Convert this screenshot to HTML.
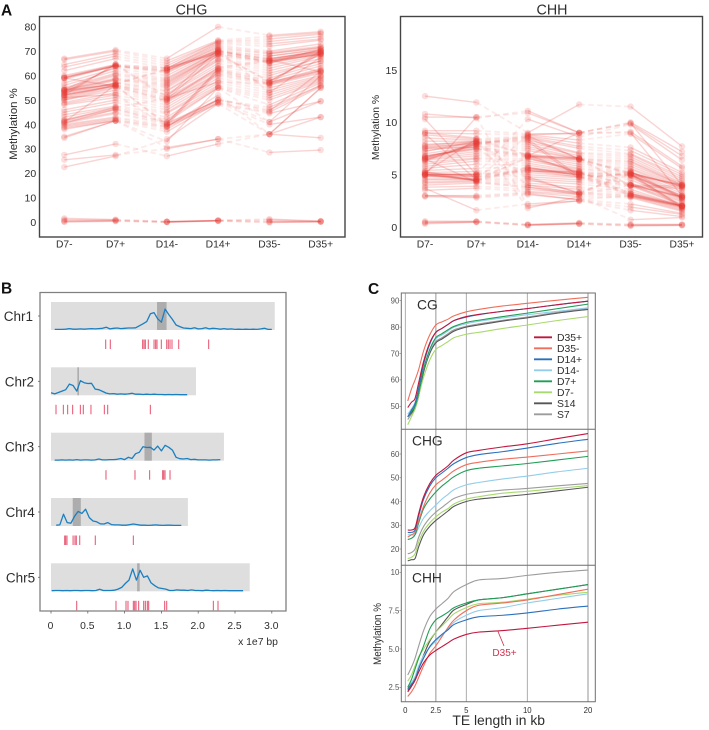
<!DOCTYPE html>
<html lang="en">
<head>
<meta charset="utf-8">
<title>Methylation figure</title>
<style>
html,body{margin:0;padding:0;background:#fff;}
svg{display:block;font-family:"Liberation Sans",sans-serif;filter:blur(0.3px);}
text{fill:#2e2e2e;}
</style>
</head>
<body>
<svg id="fig" xmlns="http://www.w3.org/2000/svg" width="709" height="730" viewBox="0 0 709 730">
  <rect x="0" y="0" width="709" height="730" fill="#fff"/>
  <g id="panelA"></g>
  <g id="panelB"></g>
  <g id="panelC"></g>
  <text x="1" y="15.5" font-size="15.5" font-weight="bold" style="fill:#111">A</text>
  <text x="1" y="293.5" font-size="15.5" font-weight="bold" style="fill:#111">B</text>
  <text x="368" y="294" font-size="15.5" font-weight="bold" style="fill:#111">C</text>
  <text x="191.5" y="14.5" font-size="14.3" text-anchor="middle">CHG</text>
  <text x="552" y="14.5" font-size="14.3" text-anchor="middle">CHH</text>
  <text transform="translate(17,124) rotate(-90)" font-size="11.4" text-anchor="middle">Methylation %</text>
  <text transform="translate(379,127.5) rotate(-90)" font-size="10.4" text-anchor="middle">Methylation %</text>
  <text x="258" y="645" font-size="10.4" text-anchor="middle">x 1e7 bp</text>
  <text x="417" y="309.5" font-size="13.8">CG</text>
  <text x="412" y="445.5" font-size="13.8">CHG</text>
  <text x="412" y="582.5" font-size="13.8">CHH</text>
  <text transform="translate(381,634) rotate(-90)" font-size="11" text-anchor="middle" textLength="62" lengthAdjust="spacingAndGlyphs">Methylation %</text>
  <text x="498.7" y="725" font-size="13.9" text-anchor="middle">TE length in kb</text>
  <text x="504.5" y="656" font-size="10" text-anchor="middle" style="fill:#d8304f">D35+</text>
  <line x1="498" y1="631.5" x2="504" y2="646" stroke="#c8304a" stroke-width="0.8"/>
</svg>
<script>
// ---------- Panel A data ----------
const sampleLabels = ['D7-','D7+','D14-','D14+','D35-','D35+'];
const chgTicks = [0,10,20,30,40,50,60,70,80];
const chhTicks = [0,5,10,15];
const chgRows = [
[67,70.5,67,80,76.5,78],[66.5,70,66,74.5,76,77.5],[64.5,69,65,74,75,77],[63.5,68,64,74,74,76],
[62,67,63,73.5,73,75],[60,64.5,63,73,72,74.5],[59.5,64,62.5,72.5,70,73],[59,64,62,72,69.5,72],
[59,64,62,71.5,69,71.5],[58.5,64,61,71,69,71.5],[57,63,60,70.5,68,71],[56,62,59,70,68,70.5],
[55,61,58.5,70,67,70],[54.5,60.5,58,69.5,67,70],[54,60,57.5,69,66,69.5],[54,59,57,69,66,69.5],
[54,58.5,56.5,69,65.5,69],[53.5,58.5,56,68.5,65.5,69],[53,58,55.5,68,65,69],[53,57,55,67,64,68.5],
[52.5,57,54,66.5,63,68],[52,56.5,53.5,66,62,67],[52,56,52.5,65,61,66],[51.5,56,52,64,60,66],
[51,56,51,63,59,65],[50.5,55.5,50.5,62.5,58,64],[50,55,50,62,57,63],[50,54,49.5,61,57,62],
[49,53,49,60.5,56.5,61.5],[48.5,52,48,60,56,61],[48,51,47,59,55,60],[46,50,46,58,54,59.5],
[45,49,45,57,53,59],[44,47.5,44.5,56,52,58.5],[43,47,43,55.5,51,58],[42,46.5,42,55,50,57.5],
[41.5,46,41,55,48,57],[41,45,40.5,50,47,56],[40.5,44.5,40,50,46,56],[40,43,39.5,49,45,55.5],
[39.5,42.5,39,48.5,44.5,49.5],[39,42,38,50,41,49.5],[38.5,41.5,37,49,40,43],[38,41.5,39,52,36,34.5],
[35,41.5,33,55,41,60],[34.5,41.5,30.5,34,36,55],[27.5,32,27,32,36,43],[25.5,27.5,30,34,28.5,29.5],
[22.5,27,34,48.5,36,55],
[54,56.4,62.8,70.2,66.3,70.4],[53.5,56.7,62.3,69.7,66.7,69.7],[54.2,63.6,61.6,70.5,65.2,70.8],[53,64.3,63.2,69.2,57.3,62.4],
[52,55.7,40.3,62.4,57.6,69.2],[41,56.2,39.6,61.7,56.5,62],[40.5,46.3,40.7,62.8,66,68.6],[59.2,64.5,50.3,68.6,57.8,68.8],
[59,55.6,49.7,63.3,66.5,61.5],[41.5,47,50.6,57.4,56.7,70.2],[52,64.8,51.2,70.7,53,67.6],[51,52.3,39.2,50.4,45.4,61.7],
[1.5,1,0.2,0.6,1.2,0.4],[1,0.8,0.1,0.7,0.8,0.3],[0.5,0.6,0,0.6,0.2,0.2],[0.2,0.5,0,0.5,0,0.1],[0,0.3,0,0.4,-0.2,0.1]
];
const chhRows = [
[12.5,11.9,9,11.7,11.5,7.7],[10.8,10.4,11.1,9,10,7.2],[10.5,10.5,10.9,9,9.9,6.8],[10.3,5,10.3,8.6,9.8,6.4],
[9.2,9.2,8.9,8.9,9.1,5.8],[9,8.9,8.8,8.3,8.9,5.6],[8.8,8.4,8.7,8,7.6,5.2],[8.5,8.3,8.6,7.7,7.3,5],
[8.2,8.2,8.5,7.5,7,4.8],[7.9,8.1,8.3,7.1,6.9,4.6],[7.6,8,8.1,7,6.7,4.4],[7.5,7.9,7.9,6.8,6.5,4.2],
[7.3,7.8,7.7,6.6,6.3,4.1],[7,7.7,7.5,6.5,6.2,4],[6.8,7.5,7.3,6.5,6,4],[6.7,7.4,7,6.4,5.8,3.9],
[6.6,7.2,6.9,6.2,5.6,3.8],[6.5,7,6.8,6,5.5,3.6],[6.4,6.8,6.7,5.8,5.3,3.4],[6.2,6.6,6.5,5.6,5.2,3.2],
[6,6.5,6.3,5.5,5.1,3],[5.8,6.3,6.1,5.3,5,3],[5.6,6,5.9,5.2,5,2.9],[5.4,5.6,5.7,5.1,4.9,2.8],
[5.2,5.3,5.6,5,4.7,2.7],[5,5.1,5.4,5,4.5,2.6],[5,5,5.2,4.8,4.2,2.5],[4.9,4.9,5,4.7,4,2.4],
[4.8,4.8,4.8,4.5,4,2.2],[4.6,4.6,4.6,4.3,3.9,2.1],[4.5,4.5,4.4,4.1,3.6,2],[4.3,4.4,4.2,3.8,3.4,2],
[4.2,4.3,4,3.6,3.2,1.9],[4,4.2,3.8,3.3,3.1,1.8],[3.8,3.9,3.6,3.2,3,1.7],[3.5,3.7,3.4,3.1,2.9,1.6],
[3,3,3.3,2.9,2.8,1.5],[2.9,2.8,3.1,2.6,2.2,1.3],[3.7,1.6,2.2,2.5,1.9,1.2],[5,10.5,2,2.5,1.6,1],
[5.2,8.4,1.8,2.9,0.7,0.9],
[6.6,8,8.5,6.5,5,4],[6.5,7.9,8.7,6.5,5.1,4],[6.7,7.7,6.8,6.5,5.2,3.9],[6.8,7.5,6.7,6.4,4,2.9],
[5,4.6,6.6,5.2,4,2.8],[5,4.5,5.6,5.1,4.1,2.9],[5.1,4.4,5.5,5,3.2,2],[4.9,4.5,5.7,4.9,3.1,2],
[5,5,5.4,4.8,3,2],[5.2,4.8,5.3,5.3,3.2,2.1],[7.8,8.2,4.8,3.2,5,2],[7.7,8,4.6,3.3,5.1,1.9],
[7.5,7.6,4,3.2,5.3,2.8],[6.5,4.3,3.8,3.1,4,3.9],[3,2.9,3.2,2.6,3,2],[6.4,7.9,8.4,4.8,5,2.8],
[6.3,8.1,8.2,4.6,5.2,3.8],[5.1,5,6.8,6.6,3.9,3.7],[5.3,4.4,6.7,5.3,2.9,1.9],[9,8.5,6.8,9,9.9,4],
[8.9,4.5,8.8,9,9,3],[7.2,8.2,6.9,5.1,4.9,1.8],
[0.55,0.55,0.25,0.4,0.25,0.25],[0.45,0.5,0.2,0.35,0.2,0.2],[0.4,0.5,0.2,0.3,0.15,0.2],[0.3,0.45,0.15,0.3,0.1,0.15]
];

// ---------- Panel B data ----------
const chrNames = ['Chr1','Chr2','Chr3','Chr4','Chr5'];
const chrLengths = [3.04,1.97,2.35,1.86,2.7];
const centromereStart = [1.44,0.358,1.27,0.295,1.17];
const centromereEnd = [1.57,0.38,1.37,0.405,1.205];
const genomeTicks = [0,0.5,1,1.5,2,2.5,3];
const genomeTickLabels = ['0','0.5','1.0','1.5','2.0','2.5','3.0'];
const te1 = [0.743,0.806,1.245,1.264,1.282,1.322,1.4,1.422,1.44,1.499,1.572,1.594,1.617,1.644,1.735,2.142];
const te2 = [0.068,0.168,0.226,0.294,0.399,0.439,0.543,0.725,0.77,1.35];
const te3 = [0.747,1.141,1.34,1.517,1.531,1.549,1.617];
const te4 = [0.186,0.199,0.217,0.3,0.326,0.344,0.39,0.602,1.119];
const te5 = [0.349,0.883,1.019,1.046,1.119,1.137,1.155,1.191,1.259,1.282,1.309,1.327,1.544,1.572,2.206,2.269];
const density1 = [0.02,0.02,0.02,0.03,0.05,0.03,0.03,0.04,0.03,0.04,0.05,0.04,0.05,0.06,0.1,0.04,0.06,0.07,0.05,0.06,0.07,0.07,0.08,0.15,0.22,0.3,0.58,0.62,0.4,0.28,0.75,0.55,0.38,0.18,0.12,0.07,0.06,0.05,0.08,0.04,0.05,0.08,0.04,0.06,0.05,0.03,0.05,0.03,0.04,0.02,0.03,0.02,0.03,0.02,0.03,0.02,0.04,0.06,0.02,0.02];
const density2 = [0.09,0.05,0.1,0.15,0.2,0.4,0.35,0.15,0.52,0.45,0.42,0.43,0.22,0.2,0.14,0.08,0.05,0.06,0.04,0.05,0.04,0.05,0.07,0.04,0.04,0.03,0.04,0.03,0.04,0.03,0.03,0.02,0.03,0.02,0.03,0.02,0.02,0.02];
const density3 = [0.02,0.02,0.03,0.02,0.03,0.02,0.04,0.02,0.03,0.03,0.02,0.03,0.06,0.03,0.03,0.04,0.04,0.05,0.08,0.04,0.12,0.08,0.25,0.3,0.5,0.47,0.48,0.38,0.52,0.35,0.55,0.48,0.38,0.12,0.07,0.06,0.08,0.04,0.05,0.03,0.03,0.03,0.02,0.03,0.03,0.04];
const density4 = [0.03,0.04,0.42,0.12,0.1,0.35,0.52,0.45,0.6,0.3,0.18,0.15,0.08,0.07,0.12,0.05,0.04,0.04,0.03,0.03,0.05,0.07,0.05,0.03,0.03,0.02,0.03,0.04,0.03,0.02,0.03,0.03,0.02,0.02,0.02];
const density5 = [0.02,0.03,0.03,0.02,0.03,0.02,0.03,0.03,0.02,0.03,0.03,0.02,0.03,0.07,0.03,0.03,0.03,0.04,0.08,0.14,0.28,0.4,0.8,0.4,0.75,0.5,0.55,0.3,0.2,0.12,0.1,0.08,0.03,0.03,0.05,0.04,0.04,0.03,0.05,0.03,0.03,0.02,0.04,0.03,0.02,0.03,0.02,0.03,0.02,0.02,0.02,0.02,0.02];

// ---------- Panel C data ----------
const teLengths = [0.2,0.5,0.8,1.1,1.5,2,2.5,3,3.5,4,5,6,8,10,15,20];
const teTicks = [0,2.5,5,10,20];
const teTickLabels = ['0','2.5','5','10','20'];
const cgTicks = [50,60,70,80,90];
const chgFacetTicks = [20,30,40,50,60];
const chhFacetTicks = [2.5,5,7.5,10];
const chhFacetTickLabels = ['2.5','5.0','7.5','10'];
const legendNames = ['D35+','D35-','D14+','D14-','D7+','D7-','S14','S7'];
const cgD35p = [49.5,51.5,53,59,67,74,78,79.5,81,82.5,84,84.8,86,87,88.5,89.8];
const cgD35m = [52,56.5,60,64,71,77,80.8,82,83,84.3,85.8,86.7,88,89,90.2,91.3];
const cgD14p = [46,48.5,51,57,66,73.5,78,79.5,81,82.5,83.8,84.7,86,87,88.5,89.8];
const cgD14m = [47,49,51.5,56,64,71,75.5,77,78.5,80,81.3,82.2,83.5,84.7,86,87.3];
const cgD7p = [46,48,50,55,64,71.5,76,77.5,79,80.3,81.8,82.6,84,85.3,87,88.7];
const cgD7m = [43,46,49,54,61,67.5,71.5,73,74.5,76,77.3,78,79.5,80.8,82.5,84];
const cgS14 = [46,47.5,49.5,54,63,70,74,75.5,77,78.5,80,80.8,82.3,83.5,85.3,86.7];
const cgS7 = [45,47,49,54,63,70.5,74.5,76,77.5,79,80.3,81.2,82.6,83.8,85.6,87];
const chgD35p = [28,28,29,35,42,47.5,51,53,55,57.5,60.5,61.5,63,64.3,66.5,68.6];
const chgD35m = [25,26,27,32,38,43.5,47,49,51,53,55.5,56.5,57.8,58.7,60,61.3];
const chgD14p = [27,27,28,34,41,46.5,50,52,54,56,58.5,59.7,61,62.5,64.5,66.2];
const chgD14m = [26,26,26,29,33,36,38.5,41,43,45,47,48,49.5,50.7,52.5,54];
const chgD7p = [24,24.5,26,31,37,41,44,46.5,48.5,50.5,53,54,55,56,57.5,59];
const chgD7m = [16,16.5,18,23,27.5,31,33.5,35.5,37,39,41,42,43.5,44.3,45.5,46.7];
const chgS14 = [15,15.5,16,21,26,29.5,32,34,36,38,40,41,42,43,44.5,46];
const chgS7 = [18,18.5,20,25,29.5,33,35.5,37.5,39.5,41.3,43,43.8,44.8,45.5,46.6,47.6];
const chhD35p = [2.2,2.55,2.95,3.5,4.1,4.6,4.9,5.15,5.4,5.65,5.95,6.1,6.2,6.35,6.55,6.75];
const chhD35m = [1.9,2.2,2.6,3.15,3.9,4.7,5.2,5.8,6.4,6.9,7.5,7.85,8,8.2,8.55,8.9];
const chhD14p = [2.4,2.7,3,3.7,4.4,5.15,5.6,5.95,6.25,6.6,6.9,7.1,7.2,7.35,7.6,7.8];
const chhD14m = [2.5,2.8,3.2,3.9,4.55,5.1,5.5,5.9,6.3,6.75,7.2,7.5,7.7,8,8.3,8.6];
const chhD7p = [2.5,3,3.7,4.4,5.2,6.3,6.9,7.15,7.4,7.7,8,8.2,8.35,8.6,8.9,9.2];
const chhD7m = [2.9,3.3,3.9,4.5,5,5.6,6.1,6.5,6.9,7.3,7.7,7.95,8.05,8.25,8.5,8.7];
const chhS14 = [2.3,2.6,3.1,3.8,4.6,5.5,6.1,6.6,7.1,7.55,7.9,8.2,8.35,8.6,8.9,9.2];
const chhS7 = [3.3,3.8,4.4,5.2,6.2,7.1,7.6,7.95,8.3,8.75,9.2,9.5,9.6,9.8,10,10.15];
const cgSeries = [cgD35p,cgD35m,cgD14p,cgD14m,cgD7p,cgD7m,cgS14,cgS7];
const chgSeries = [chgD35p,chgD35m,chgD14p,chgD14m,chgD7p,chgD7m,chgS14,chgS7];
const chhSeries = [chhD35p,chhD35m,chhD14p,chhD14m,chhD7p,chhD7m,chhS14,chhS7];

// ---------- helpers ----------
const NS = 'http://www.w3.org/2000/svg';
function mk(parent, tag, attrs, txt){
  const e = document.createElementNS(NS, tag);
  for (const k in attrs) e.setAttribute(k, attrs[k]);
  if (txt !== undefined) e.textContent = txt;
  parent.appendChild(e);
  return e;
}
function slug(s){ return String(s).toLowerCase().replace(/\+/g,'-plus').replace(/-$/,'-minus').replace(/\./g,'-'); }
function smoothPath(pts){
  let d = 'M' + pts[0][0].toFixed(2) + ' ' + pts[0][1].toFixed(2);
  for (let i = 0; i < pts.length - 1; i++) {
    const p0 = pts[Math.max(i - 1, 0)], p1 = pts[i], p2 = pts[i + 1], p3 = pts[Math.min(i + 2, pts.length - 1)];
    const c1x = p1[0] + (p2[0] - p0[0]) / 6, c1y = p1[1] + (p2[1] - p0[1]) / 6;
    const c2x = p2[0] - (p3[0] - p1[0]) / 6, c2y = p2[1] - (p3[1] - p1[1]) / 6;
    d += 'C' + c1x.toFixed(2) + ' ' + c1y.toFixed(2) + ' ' + c2x.toFixed(2) + ' ' + c2y.toFixed(2) + ' ' + p2[0].toFixed(2) + ' ' + p2[1].toFixed(2);
  }
  return d;
}

const A = document.getElementById('panelA');
const B = document.getElementById('panelB');
const C = document.getElementById('panelC');

// ---------- Panel A drawing ----------
function drawSlope(cfg, rows, ticks){
  const sx = i => cfg.x0 + i * cfg.dx;
  const sy = v => cfg.y0 - v * cfg.k;
  const g = mk(A, 'g', {});
  
  
  rows.forEach((r, ri) => {
    for (let i = 0; i < r.length - 1; i++) {
      const solid = i % 2 === 0;
      const l = mk(g, 'line', {x1:sx(i), y1:sy(r[i]), x2:sx(i+1), y2:sy(r[i+1]),
        stroke:'#e53935', 'stroke-width': solid ? 1.4 : 1.8, 'stroke-opacity': solid ? 0.22 : 0.1,
        'stroke-dasharray': solid ? 'none' : '5.5 3.5'});
      
      
    }
    r.forEach((v, i) => {
      const c = mk(g, 'circle', {cx:sx(i), cy:sy(v), r:3.2, fill:'#e53935', 'fill-opacity':0.17});
      
      
    });
  });
  const frame = mk(g, 'rect', {x:cfg.fx, y:16.5, width:cfg.fw, height:220.5, fill:'none', stroke:'#444', 'stroke-width':1.4});
  
  
  ticks.forEach(t => {
    const tl = mk(g, 'text', {x:cfg.fx - 3.3, y:sy(t) + 3.9, 'font-size':10.5, 'text-anchor':'end'}, String(t));
    
    
  });
  sampleLabels.forEach((s, i) => {
    const tl = mk(g, 'text', {x:sx(i), y:247.3, 'font-size':10.3, 'text-anchor':'middle'}, s);
    
    
  });
}
drawSlope({name:'chg', x0:64.3, dx:51.28, y0:222, k:2.44, fx:39.5, fw:305.5}, chgRows, chgTicks);
drawSlope({name:'chh', x0:425, dx:51.4, y0:227, k:10.47, fx:400.5, fw:302}, chhRows, chhTicks);

// ---------- Panel B drawing ----------
const gx = v => 51 + v * 73.6;
const bandTops = [302,367.3,432.7,498,563.3];
const labelRight = [33,34,34.2,34.8,35.2];
const densities = [density1,density2,density3,density4,density5];
const densityStart = [0.05,0,0.05,0.07,0.01];
const teSites = [te1,te2,te3,te4,te5];
const bFrame = mk(B, 'path', {d:'M40 611V292.5H286V611Z', fill:'none', stroke:'#808080', 'stroke-width':1.3});


chrNames.forEach((n, i) => {
  const top = bandTops[i];
  const band = mk(B, 'rect', {x:gx(0), y:top, width:gx(chrLengths[i]) - gx(0), height:28, fill:'#dedede'});
  
  
  const cen = mk(B, 'rect', {x:gx(centromereStart[i]), y:top, width:gx(centromereEnd[i]) - gx(centromereStart[i]), height:28, fill:'#adadad'});
  
  
  const pts = densities[i].map((d, k) => gx(densityStart[i] + k * 0.05).toFixed(1) + ',' + (top + 28 - d * 28).toFixed(1)).join(' ');
  const pl = mk(B, 'polyline', {points:pts, fill:'none', stroke:'#1a7fc1', 'stroke-width':1.3, 'stroke-linejoin':'round'});
  
  
  teSites[i].forEach(v => {
    const t = mk(B, 'line', {x1:gx(v), x2:gx(v), y1:top + 37.5, y2:top + 47, stroke:'#e8607a', 'stroke-width':1.1});
    
    
  });
  const tk = mk(B, 'line', {x1:38, x2:40, y1:top + 14, y2:top + 14, stroke:'#666', 'stroke-width':0.8});
  
  
  const lb = mk(B, 'text', {x:labelRight[i], y:top + 19, 'font-size':13.5, 'text-anchor':'end'}, n);
  
  
});
genomeTicks.forEach((v, i) => {
  const t = mk(B, 'line', {x1:gx(v), x2:gx(v), y1:611, y2:613.5, stroke:'#666', 'stroke-width':0.8});
  
  
  const l = mk(B, 'text', {x:gx(v) - 0.5, y:629, 'font-size':10.3, 'text-anchor':'middle'}, genomeTickLabels[i]);
  
  
});

// ---------- Panel C drawing ----------
const teColors = ['#c1173f','#ef6f5c','#2a70bd','#93cdea','#1f9e56','#a8d96c','#565656','#9c9c9c'];
const xC = v => v <= 10 ? 405.3 + 12.2 * v : 527.3 + 6.07 * (v - 10);
const yCg = v => 406.3 - (v - 50) * 2.64;
const yChg = v => 549 - (v - 20) * 2.375;
const yChh = v => 687.3 - (v - 2.5) * 15.33;
teTicks.forEach((v, i) => {
  const thick = v === 2.5 || v === 20;
  const g = mk(C, 'line', {x1:xC(v), x2:xC(v), y1:293, y2:701.7, stroke: thick ? '#bdbdbd' : '#9a9a9a', 'stroke-width': thick ? 1.6 : 0.8});
  
  
  const t = mk(C, 'text', {x:xC(v), y:713, 'font-size':7.8, 'text-anchor':'middle'}, teTickLabels[i]);
  
  
});
function drawFacet(name, series, yFn, ticks, labels, drawOrder){
  drawOrder.forEach(si => {
    const p = teLengths.map((x, k) => [xC(x), yFn(series[si][k])]);
    const pl = mk(C, 'path', {d:smoothPath(p), fill:'none', stroke:teColors[si], 'stroke-width':1.1, 'stroke-linejoin':'round'});
    
    
  });
  ticks.forEach((v, i) => {
    const tk = mk(C, 'line', {x1:399.5, x2:401.3, y1:yFn(v), y2:yFn(v), stroke:'#777', 'stroke-width':0.6});
    
    
    const t = mk(C, 'text', {x:399.3, y:yFn(v) + 2.8, 'font-size':7.8, 'text-anchor':'end', style:'fill:#555'}, labels[i]);
    
    
  });
}
const order = [7,6,5,3,4,1,2,0];
drawFacet('cg', cgSeries, yCg, cgTicks, cgTicks.map(String), order);
drawFacet('chg', chgSeries, yChg, chgFacetTicks, chgFacetTicks.map(String), order);
drawFacet('chh', chhSeries, yChh, chhFacetTicks, chhFacetTickLabels, order);
const cFrame = mk(C, 'path', {d:'M401.3 293V701.7H595.3V293ZM401.3 429.3H595.3M401.3 565.3H595.3', fill:'none', stroke:'#6e6e6e', 'stroke-width':1});


legendNames.forEach((n, i) => {
  const y = 337.3 + i * 11;
  const l = mk(C, 'line', {x1:534, x2:552, y1:y, y2:y, stroke:teColors[i], 'stroke-width':1.9});
  
  
  const t = mk(C, 'text', {x:557, y:y + 3.5, 'font-size':10.4}, n);
  
  
});
</script>
</body>
</html>
